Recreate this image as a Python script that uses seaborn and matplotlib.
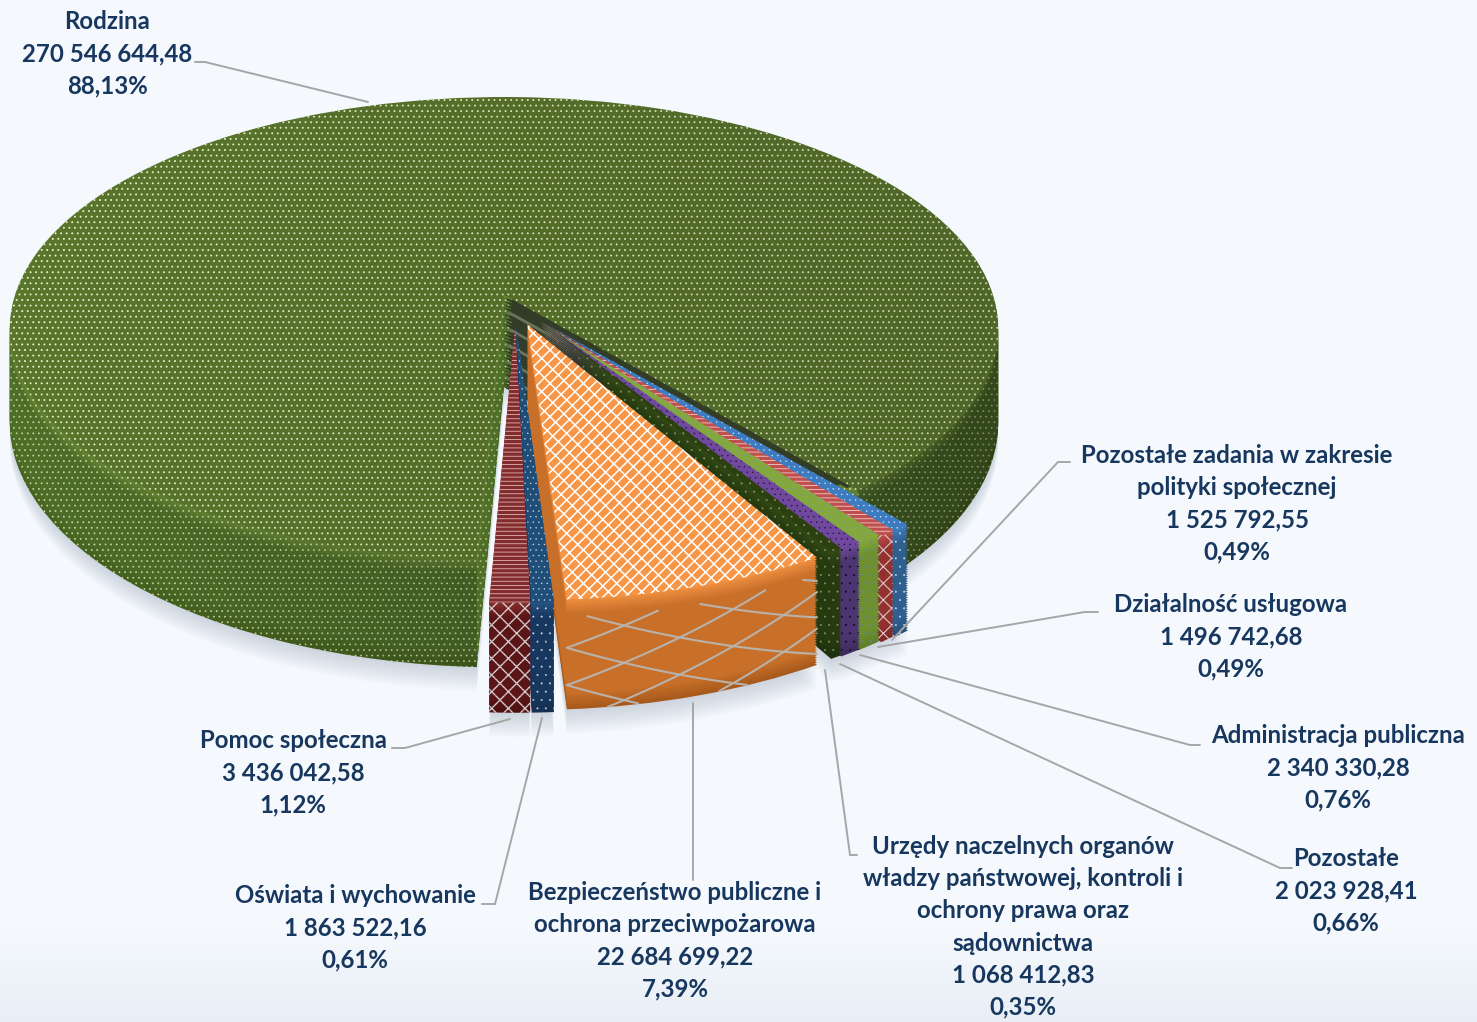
# Wykres kolowy 3D - wydatki wg dzialow
import numpy as np
import matplotlib
matplotlib.use('Agg')
import matplotlib.pyplot as plt
from matplotlib.patches import Wedge
from matplotlib.path import Path
from matplotlib.transforms import Transform
import seaborn as sns

# dane
kategorie = ['Rodzina', 'Pomoc społeczna', 'Oświata i wychowanie',
             'Bezpieczeństwo publiczne i\nochrona przeciwpożarowa',
             'Urzędy naczelnych organów\nwładzy państwowej, kontroli i\nochrony prawa oraz\nsądownictwa',
             'Pozostałe', 'Administracja publiczna', 'Działalność usługowa',
             'Pozostałe zadania w zakresie\npolityki społecznej']
wartosci = [270546644.48, 3436042.58, 1863522.16, 22684699.22, 1068412.83,
            2023928.41, 2340330.28, 1496742.68, 1525792.55]
wartosci_tekst = ['270 546 644,48', '3 436 042,58', '1 863 522,16', '22 684 699,22',
                  '1 068 412,83', '2 023 928,41', '2 340 330,28', '1 496 742,68',
                  '1 525 792,55']
procenty = ['88,13%', '1,12%', '0,61%', '7,39%', '0,35%', '0,66%', '0,76%', '0,49%', '0,49%']

# wyglad
kolory_gora = ['#5a762d', '#832c2e', '#1f4e79', '#f79646', '#2b3f10', '#7048a0', '#84a83c', '#c0504d', '#3d7cc0']
kolory_rant = ['#6a8a36', '#8a2f2f', '#2a5585', '#f08f40', '#334a14', '#6f4a9a', '#84a83c', '#c0504d', '#3d7cc0']
kolory_bok = ['#4f6f29', '#5c1517', '#17375e', '#c8702a', '#263a10', '#4c3570', '#6f9030', '#93312f', '#2f5f8f']
kolory_dol = ['#47641f', '#4d1012', '#142f50', '#a85a1c', '#1f300c', '#3f2b60', '#5f8028', '#7f2826', '#27507a']
hatch_kolor = ['#eaf2c8', '#e0b4b4', '#dfe8f2', '#ffffff', '#8a9a70', '#101018', '#6f9ab0', '#efcaca', '#e8f0fa']
hatch_gora = ['...', '----', '...', '///\\\\', '..', '...', '...', '----', '...']
hatch_bok = ['...', 'xx', '..', None, '..', '..', '..', 'xx', '..']
hatch_bok_kolor = ['#dbe6b4', '#d8d0d0', '#d0d8e4', '#b9b2aa', '#8a9a70', '#08080c', '#5f88a8', '#e0d0d0', '#d8e0ec']
kolejnosc = [0, 8, 7, 6, 5, 4, 3, 2, 1]
rozsuniecie = [0, 0.14, 0.14, 0.145, 0.14, 0.14, 0.14, 0.14, 0.14]
przesuniecie = [(0, 0), (0.024, 0.005), (0.019, 0.005), (0.005, 0.012), (0.002, 0.012),
                (-0.002, 0.006), (-0.009, 0), (-0.0105, -0.006), (-0.0107, -0.01)]
kat_startu = 310

# polozenie etykiet i linii
etykiety_xy = [(107, 54), (293, 773), (355, 928), (675, 941), (1023, 927),
               (1346, 891), (1338, 768), (1231, 637), (1237, 504)]
linie_xy = [[(195, 62), (205, 62), (368, 102)],
            [(392, 748), (405, 748), (510, 719)],
            [(482, 904), (495, 904), (542, 718)],
            [(693, 880), (693, 703)],
            [(857, 855), (850, 855), (825, 670)],
            [(1292, 868), (1280, 868), (840, 664)],
            [(1200, 745), (1190, 745), (860, 655)],
            [(1098, 612), (1085, 612), (878, 647)],
            [(1070, 462), (1058, 462), (892, 640)]]


def rzut(u, v, z):
    # rzut punktu z plaszczyzny kola na ekran, z = glebokosc (0 gora, 1 dol)
    w = 1 + 0.1446 * v
    return 504 + 489 * u / w, 295 + (-226.6 * v + 92 * z) / w


class Perspektywa(Transform):
    input_dims = 2
    output_dims = 2
    is_affine = False

    def __init__(self, z=0.0, du=0.0, dv=0.0):
        super().__init__()
        self.z = z
        self.du = du
        self.dv = dv

    def transform_non_affine(self, values):
        values = np.asarray(values, dtype=float)
        x, y = rzut(values[:, 0] + self.du, values[:, 1] + self.dv, self.z)
        return np.column_stack([x, y])


sns.set_theme(style='white')
plt.rcParams['font.family'] = ['Lato', 'DejaVu Sans']
plt.rcParams['hatch.linewidth'] = 0.3

fig, ax = plt.subplots(figsize=(14.77, 10.22), dpi=100)
fig.subplots_adjust(0, 0, 1, 1)


def warstwa(z, kolory, hatche, hatch_kolory, baza, alpha=None, lw_hatch=None):
    wedges, _ = ax.pie(wartosci, explode=rozsuniecie, startangle=kat_startu, radius=1,
                       colors=kolory, wedgeprops=dict(linewidth=0, alpha=alpha))
    for i, w in enumerate(wedges):
        w.set_transform(Perspektywa(z, *przesuniecie[i]) + ax.transData)
        w.set_zorder(baza + kolejnosc.index(i) * 100)
        w.set_edgecolor(hatch_kolory[i])
        w.set_linewidth(0)
        if hatche is not None:
            w.set_hatch(hatche[i])
        if lw_hatch is not None:
            w.set_hatch_linewidth(lw_hatch[i])
    return wedges


def ciemnienie(alfa_max, sciezka, zorder):
    # poziomy gradient przyciemniajacy w prawo
    obraz = np.zeros((1, 256, 4))
    obraz[0, :, 3] = np.linspace(0, alfa_max, 256)
    im = ax.imshow(obraz, extent=(0, 1000, 1022, 0), aspect='auto', zorder=zorder)
    im.set_clip_path(sciezka, ax.transData)


def wstega(kat_od, kat_do):
    katy = np.radians(np.linspace(kat_od, kat_do, 100))
    luk = np.column_stack([np.cos(katy), np.sin(katy)])
    gora_luk = Perspektywa(0).transform(luk)
    dol_luk = Perspektywa(1).transform(luk)
    return Path(np.vstack([gora_luk, dol_luk[::-1], gora_luk[:1]]), closed=True)


# tlo
wiersze = np.arange(1022)
t = np.clip((wiersze - 930) / 92, 0, 1)[:, None, None]
tlo = (1 - t) * np.array([[[245, 249, 253]]]) + t * np.array([[[232, 238, 246]]])
ax.imshow(tlo.astype(np.uint8), extent=(0, 1477, 1022, 0), aspect='auto', zorder=0)

# cien pod wykresem
for z in np.arange(1.22, 1.0, -0.02):
    warstwa(z, ['#8090a8'] * 9, None, ['none'] * 9, 1, alpha=0.03)

# boki - warstwy od dolu do gory
n = 46
palety = [sns.blend_palette([kolory_rant[i]] + [kolory_bok[i]] * 6 + [kolory_dol[i]], n_colors=n)
          for i in range(9)]
lw_bok = [0.5, 1.0, 0.2, 1.4, 0.2, 0.2, 0.2, 0.8, 0.2]
for k in range(n - 1, 0, -1):
    warstwa(k / (n - 1), [p[k] for p in palety], hatch_bok, hatch_bok_kolor, 5 + (n - k), lw_hatch=lw_bok)

# przyciemnienie boku glownego wycinka (tylko widoczne czesci)
kat_konca = kat_startu + 360 * wartosci[0] / sum(wartosci)
wstegi = Path.make_compound_path(wstega(kat_startu - 360, -8.3),
                                 wstega(188.3, kat_konca - 360))
ciemnienie(0.36, wstegi, 52)

# ciemna sciana ciecia przy glownym wycinku, z paskami
m = 28
for k in range(m, 0, -1):
    z = k / m
    kolor = '#69735f' if k % 5 == 0 else '#323c26'
    sciana = Wedge((0, 0), 1.0 - 0.74 * z, kat_startu - 360, kat_startu - 360 + 30, facecolor=kolor, linewidth=0,
                   transform=Perspektywa(z) + ax.transData, zorder=55)
    ax.add_patch(sciana)

# siatka na boku pomaranczowego wycinka
i_pom = 3
poczatek = kat_startu + 360 * sum(wartosci[:i_pom]) / sum(wartosci)
koniec = poczatek + 360 * wartosci[i_pom] / sum(wartosci)
srodek = np.radians((poczatek + koniec) / 2)
kat = np.linspace(poczatek, koniec, 80)
u = np.cos(np.radians(kat)) + rozsuniecie[i_pom] * np.cos(srodek) + przesuniecie[i_pom][0]
v = np.sin(np.radians(kat)) + rozsuniecie[i_pom] * np.sin(srodek) + przesuniecie[i_pom][1]
for c in np.arange(-1.6, 2.8, 0.34):
    for znak in (1, -1):
        z = c + znak * 0.03 * (kat - poczatek)
        z = np.where((z > 0.16) & (z < 1), z, np.nan)
        xs, ys = rzut(u, v, z)
        ax.plot(xs, ys, color='#b9b2aa', lw=1.5, zorder=655)

# gorna powierzchnia
lw_gora = [0.6, 0.6, 0.2, 1.1, 0.2, 0.2, 0.2, 0.6, 0.2]
gorne = warstwa(0, kolory_gora, hatch_gora, hatch_kolor, 60, lw_hatch=lw_gora)
ciemnienie(0.14, Perspektywa(0).transform_path(gorne[0].get_path()), 61)

# linie odniesienia
for linia in linie_xy:
    xs, ys = zip(*linia)
    ax.plot(xs, ys, color='#a6a6a6', lw=1.4, zorder=2000, solid_joinstyle='miter')

# etykiety
for nazwa, wart, proc, (x, y) in zip(kategorie, wartosci_tekst, procenty, etykiety_xy):
    ax.text(x, y, f'{nazwa}\n{wart}\n{proc}', ha='center', va='center', fontsize=17.3,
            fontweight='bold', color='#17375e', linespacing=1.48, zorder=2100)

ax.set_aspect('auto')
ax.set_xlim(0, 1477)
ax.set_ylim(1022, 0)
ax.axis('off')

fig.savefig('out.png', dpi=100)
